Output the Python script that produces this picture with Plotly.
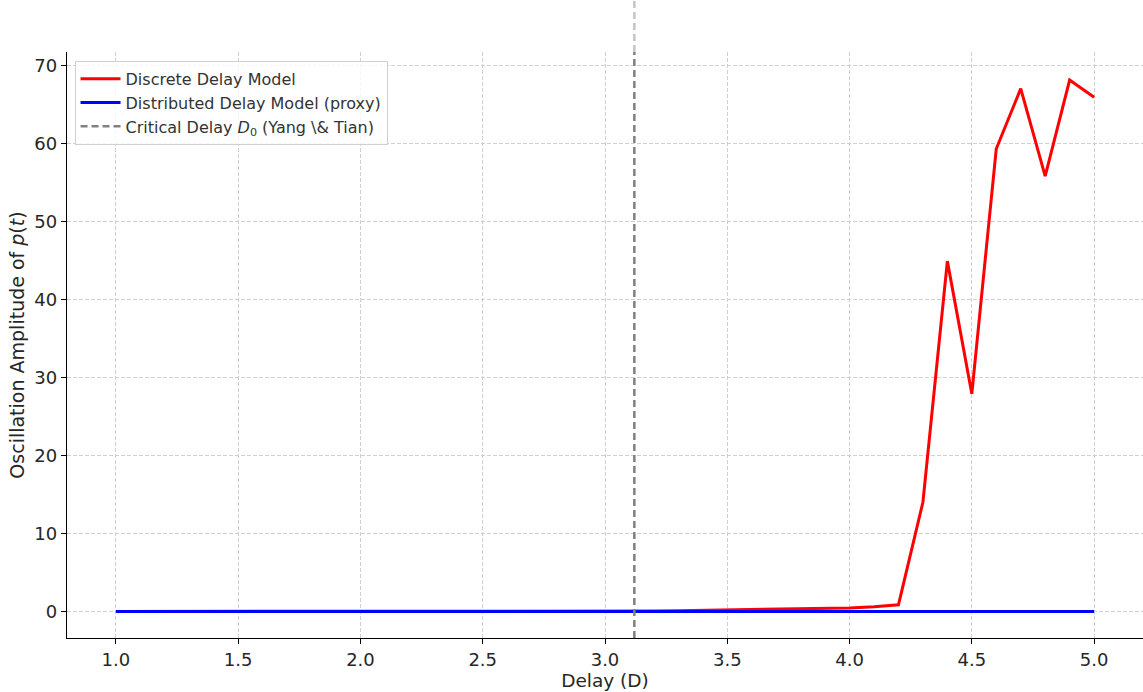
import plotly.graph_objects as go

# Delay values D and the oscillation amplitude of p(t) for each model
delay = [1.0, 1.1, 1.2, 1.3, 1.4, 1.5, 1.6, 1.7, 1.8, 1.9,
         2.0, 2.1, 2.2, 2.3, 2.4, 2.5, 2.6, 2.7, 2.8, 2.9,
         3.0, 3.1, 3.2, 3.3, 3.4, 3.5, 3.6, 3.7, 3.8, 3.9,
         4.0, 4.1, 4.2, 4.3, 4.4, 4.5, 4.6, 4.7, 4.8, 4.9, 5.0]
discrete_amp = [0.0, 0.0, 0.0, 0.0, 0.0, 0.0, 0.0, 0.0, 0.0, 0.0,
                0.0, 0.0, 0.0, 0.0, 0.0, 0.0, 0.0, 0.0, 0.0, 0.0,
                0.0, 0.0, 0.05, 0.1, 0.15, 0.2, 0.25, 0.3, 0.35, 0.4,
                0.45, 0.6, 0.85, 14.0, 44.9, 27.9, 59.3, 67.0, 55.8, 68.1, 65.9]
distributed_amp = [0.0] * len(delay)
critical_delay = 3.12

x_ticks = [1.0, 1.5, 2.0, 2.5, 3.0, 3.5, 4.0, 4.5, 5.0]
x_tick_text = ["1.0", "1.5", "2.0", "2.5", "3.0", "3.5", "4.0", "4.5", "5.0"]
y_ticks = [0, 10, 20, 30, 40, 50, 60, 70]

fig = go.Figure()
fig.add_trace(go.Scatter(x=delay, y=discrete_amp, mode="lines",
                         line=dict(color="#ff0000", width=3),
                         name="Discrete Delay Model"))
fig.add_trace(go.Scatter(x=delay, y=distributed_amp, mode="lines",
                         line=dict(color="#0000ff", width=3),
                         name="Distributed Delay Model (proxy)"))
# legend entry for the critical delay marker
fig.add_trace(go.Scatter(x=[None], y=[None], mode="lines",
                         line=dict(color="#808080", width=2.5, dash="7px,4px"),
                         name="Critical Delay <i>D</i><sub>0</sub> (Yang \\& Tian)"))

# critical delay marker: solid inside the axes, faded above them
fig.add_shape(type="line", xref="x", yref="paper",
              x0=critical_delay, x1=critical_delay, y0=0, y1=1.0,
              line=dict(color="#808080", width=2.5, dash="7px,4px"))
fig.add_shape(type="line", xref="x", yref="paper",
              x0=critical_delay, x1=critical_delay, y0=1.0, y1=1.09,
              line=dict(color="#808080", width=2.5, dash="7px,4px"), opacity=0.45)

fig.update_layout(
    width=1143, height=692,
    margin=dict(l=67, r=0, t=52, b=54),
    plot_bgcolor="white", paper_bgcolor="white",
    font=dict(family="DejaVu Sans", color="#262626"),
    showlegend=True,
    legend=dict(x=0.007, y=0.985, xanchor="left", yanchor="top",
                bgcolor="rgba(255,255,255,0.8)", bordercolor="#d0d0d0",
                borderwidth=1, font=dict(size=16, color="#333333"),
                tracegroupgap=0, itemwidth=40),
    xaxis=dict(range=[0.8, 5.2], tickvals=x_ticks, ticktext=x_tick_text,
               showgrid=True, gridcolor="#d0d0d0", griddash="4px,2px", gridwidth=1,
               showline=True, linecolor="black", linewidth=1.3,
               ticks="outside", ticklen=5, tickcolor="black",
               tickfont=dict(size=18),
               title=dict(text="Delay (D)", font=dict(size=18.5), standoff=2),
               zeroline=False),
    yaxis=dict(range=[-3.4, 71.7], tickvals=y_ticks,
               showgrid=True, gridcolor="#d0d0d0", griddash="4px,2px", gridwidth=1,
               showline=True, linecolor="black", linewidth=1.3,
               ticks="outside", ticklen=5, tickcolor="black",
               tickfont=dict(size=18),
               title=dict(text="Oscillation Amplitude of <i>p</i>(<i>t</i>)",
                          font=dict(size=19), standoff=4),
               zeroline=False),
)

fig.write_html("out.html")
